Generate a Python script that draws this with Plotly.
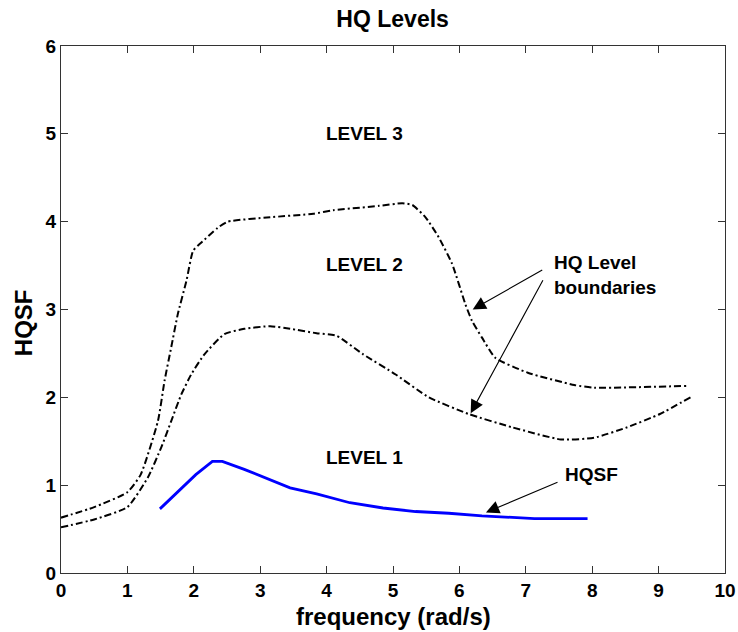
import plotly.graph_objects as go

# Level 2/3 boundary
upper_x = [0.0, 0.5, 1.0, 1.2, 1.46, 1.56, 1.66, 1.76, 1.89, 1.99, 2.11, 2.36, 2.51, 3.15, 3.8,
           4.1, 4.79, 5.14, 5.29, 5.49, 5.69, 5.89, 6.09, 6.19, 6.34, 6.54, 7.03, 7.73, 8.03, 9.42]
upper_y = [0.63, 0.75, 0.92, 1.12, 1.73, 2.19, 2.57, 2.95, 3.33, 3.67, 3.76, 3.93, 4.0, 4.05, 4.09,
           4.13, 4.18, 4.21, 4.19, 4.05, 3.82, 3.52, 3.06, 2.87, 2.68, 2.45, 2.28, 2.14, 2.11, 2.13]

# Level 1/2 boundary
lower_x = [0.0, 0.5, 1.0, 1.31, 1.51, 1.66, 1.81, 1.96, 2.16, 2.46, 2.76, 3.15, 3.45, 3.85,
           4.15, 4.55, 5.04, 5.54, 6.14, 6.79, 7.53, 8.03, 8.53, 9.02, 9.48]
lower_y = [0.52, 0.61, 0.75, 1.09, 1.43, 1.73, 2.03, 2.26, 2.49, 2.72, 2.78, 2.81, 2.78, 2.73,
           2.70, 2.49, 2.26, 2.0, 1.81, 1.66, 1.52, 1.54, 1.66, 1.81, 2.0]

# HQSF curve
hqsf_x = [1.49, 1.74, 2.03, 2.28, 2.43, 2.76, 3.05, 3.45, 3.85, 4.35, 4.85, 5.34, 5.84, 6.34, 7.13, 7.93]
hqsf_y = [0.73, 0.91, 1.12, 1.27, 1.27, 1.18, 1.09, 0.97, 0.90, 0.80, 0.74, 0.70, 0.68, 0.65, 0.62, 0.62]

x_ticks = list(range(0, 11))
y_ticks = list(range(0, 7))

region_labels = ["LEVEL 3", "LEVEL 2", "LEVEL 1"]
region_y = [5.0, 3.51, 1.31]
region_x = 4.57

FAMILY = "Liberation Sans, Arial, sans-serif"

def bold(size):
    return dict(family=FAMILY, size=size, color="black", weight="bold")

fig = go.Figure()
dash = "7px,3px,2px,3px"
fig.add_trace(go.Scatter(x=upper_x, y=upper_y, mode="lines",
                         line=dict(color="black", width=2, dash=dash, shape="spline", smoothing=0.5)))
fig.add_trace(go.Scatter(x=lower_x, y=lower_y, mode="lines",
                         line=dict(color="black", width=2, dash=dash, shape="spline", smoothing=0.5)))
fig.add_trace(go.Scatter(x=hqsf_x, y=hqsf_y, mode="lines",
                         line=dict(color="#0000ff", width=2.8)))

for lbl, yy in zip(region_labels, region_y):
    fig.add_annotation(x=region_x, y=yy, text=lbl, showarrow=False, font=bold(19))

fig.add_annotation(x=7.40, y=3.39, text="HQ Level<br>boundaries", showarrow=False,
                   font=bold(19), xanchor="left", align="left")
fig.add_annotation(x=7.99, y=1.12, text="HQSF", showarrow=False, font=bold(19))

# arrows pointing from the labels to the curves
arrows = [((7.27, 3.46), (6.20, 3.0)), ((7.27, 3.35), (6.17, 1.82)), ((7.50, 1.04), (6.40, 0.69))]
for (tx, ty), (hx, hy) in arrows:
    fig.add_annotation(x=hx, y=hy, ax=tx, ay=ty, xref="x", yref="y", axref="x", ayref="y",
                       text="", showarrow=True, arrowhead=2, arrowsize=2.4, arrowwidth=1.1,
                       arrowcolor="black")

# axis titles
fig.add_annotation(x=0.5, y=-0.082, xref="paper", yref="paper", text="frequency (rad/s)",
                   xanchor="center", yanchor="middle", showarrow=False, font=bold(24))
fig.add_annotation(x=-0.0565, y=0.475, xref="paper", yref="paper", text="HQSF",
                   xanchor="center", yanchor="middle", textangle=-90, showarrow=False,
                   font=bold(24))

axis_common = dict(ticks="inside", ticklen=7, mirror="ticks", showline=True, linecolor="#333333",
                   linewidth=1.3, tickcolor="#333333", showgrid=False, zeroline=False,
                   tickfont=bold(19), ticklabeloverflow="allow", automargin=False)

fig.update_layout(
    width=738, height=632,
    margin=dict(l=61, r=13, t=46, b=59),
    paper_bgcolor="white", plot_bgcolor="white",
    showlegend=False,
    title=dict(text="HQ Levels", x=0.532, xanchor="center", y=1 - 19 / 632, yanchor="middle",
               font=bold(23)),
    xaxis=dict(range=[0, 10], tickvals=x_ticks, **axis_common),
    yaxis=dict(range=[0, 6], tickvals=y_ticks, **axis_common),
)

fig.write_html("out.html")
